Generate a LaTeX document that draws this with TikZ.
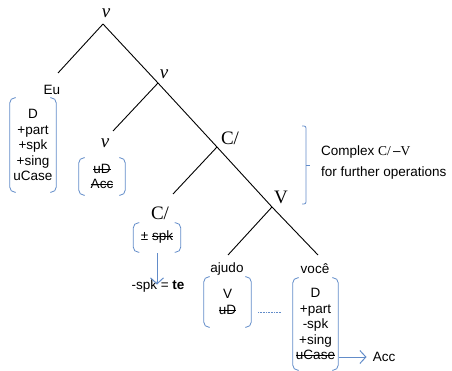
\documentclass[tikz,border=0pt]{standalone}
\usepackage{fontspec}
\setmainfont{Liberation Sans}
\newfontfamily\tms{Liberation Serif}
\newcommand\strk[1]{\setbox0\hbox{#1}\rlap{\rule[0.3em]{\wd0}{0.5pt}}\box0}
\usetikzlibrary{arrows.meta}
\definecolor{blu}{RGB}{98,140,201}
\tikzset{
  tree/.style={draw=black, line width=0.9pt},
  lab/.style={font=\tms\fontsize{19}{19}\selectfont, inner sep=0pt},
  word/.style={font=\fontsize{13.5}{15}\selectfont, inner sep=0pt},
  feat/.style={font=\fontsize{13.5}{15.5}\selectfont, align=center, inner sep=0pt},
  brk/.style={draw=blu, line width=0.8pt, rounded corners=5pt},
  barrow/.style={draw=blu, line width=0.9pt, -{Straight Barb[length=6pt,width=13pt,line width=1pt]}}
}
\newcommand\fbrk[1]{%
  \draw[brk] ([xshift=6pt]#1.north west) -- (#1.north west) -- (#1.south west) -- ([xshift=6pt]#1.south west);
  \draw[brk] ([xshift=-6pt]#1.north east) -- (#1.north east) -- (#1.south east) -- ([xshift=-6pt]#1.south east);}
\begin{document}
\begin{tikzpicture}[x=1pt,y=-1pt]
\useasboundingbox (0,0) rectangle (452,371);
% tree labels
\node[lab] (vtop) at (106,13) {\textit{v}};
\node[lab] (v2) at (164,74) {\textit{v}};
\node[lab] (c1) at (230,138) {C/};
\node[lab] (V1) at (281,197) {V};
\node[lab] (v3) at (105,143) {\textit{v}};
\node[lab] (c2) at (160,213) {C/};
\node[word] (eu) at (52,90) {Eu};
\node[word] (ajudo) at (227,269) {ajudo};
\node[word] (voce) at (315,269) {você};
% branch coordinates
\coordinate (b1) at (103,24);
\coordinate (b2) at (158,83);
\coordinate (b3) at (217,147);
\coordinate (b4) at (272,207);
\coordinate (e1) at (58,73);
\coordinate (e2) at (113,131);
\coordinate (e3) at (173,194);
\coordinate (e4) at (228,255);
\coordinate (e5) at (318,255);
\draw[tree] (b1) -- (b2) -- (b3) -- (b4) -- (e5);
\draw[tree] (b1) -- (e1);
\draw[tree] (b2) -- (e2);
\draw[tree] (b3) -- (e3);
\draw[tree] (b4) -- (e4);
% feature boxes
\node[feat, minimum width=46pt, minimum height=94pt] (fEu) at (33,145) {D\\+part\\+spk\\+sing\\uCase};
\node[feat, minimum width=46pt, minimum height=37pt] (fv) at (102,176.5) {\strk{uD}\\\strk{Acc}};
\node[feat, minimum width=47pt, minimum height=29pt] (fc) at (157,237.5) {± \strk{spk}};
\node[feat, minimum width=47pt, minimum height=50pt] (faj) at (227.5,302) {V\\\strk{uD}};
\node[feat, minimum width=45pt, minimum height=92pt] (fvo) at (315.5,324) {D\\+part\\-spk\\+sing\\\strk{uCase}};
\fbrk{fEu}
\fbrk{fv}
\fbrk{fc}
\fbrk{faj}
\fbrk{fvo}
% te
\node[word] (te) at (158,286) {-spk = \textbf{te}};
\draw[barrow] ([yshift=-1pt]fc.south) -- ([yshift=-5pt]fc.south |- te.north);
% Acc
\node[word] (acc) at (384,357) {Acc};
\coordinate (ua) at (339,357);
\draw[barrow] (ua) -- ([xshift=-6pt]acc.west);
% dotted link
\coordinate (d1) at (258,312);
\coordinate (d2) at (281,312);
\draw[blu, line width=0.6pt, densely dotted] (d1) -- (d2);
% right bracket
\coordinate (rbt) at (302,126);
\coordinate (rbb) at (302,204);
\coordinate (rbm) at (306,165);
\draw[brk, rounded corners=2pt] (rbt) -- (306,126) -- (306,204) -- (rbb);
\draw[draw=blu, line width=0.8pt] (rbm) -- (310,165);
\node[word, anchor=west, align=left, font=\fontsize{13.5}{21}\selectfont] (cplx) at (321,162.5) {Complex {\tms C/}\,–{\tms V}\\for further operations};
\end{tikzpicture}
\end{document}
